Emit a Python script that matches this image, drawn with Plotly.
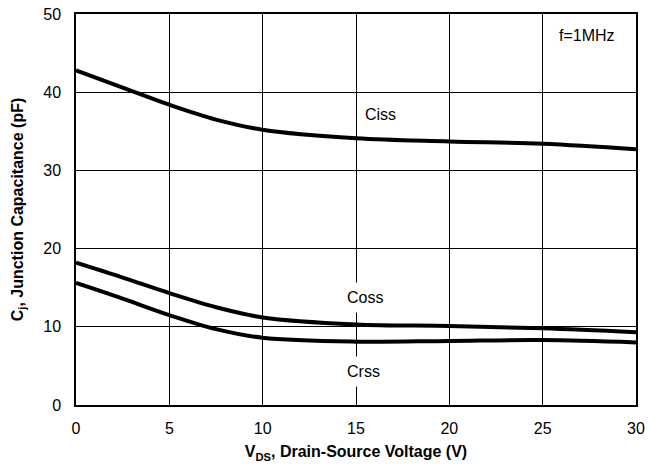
import plotly.graph_objects as go

# Drain-source voltage sample points (V)
vds = [0, 2.5, 5, 7.5, 10, 15, 20, 25, 30]

# Junction capacitances (pF) at f = 1 MHz
ciss = [42.8, 40.6, 38.4, 36.5, 35.2, 34.1, 33.7, 33.4, 32.7]
coss = [18.2, 16.3, 14.3, 12.5, 11.2, 10.3, 10.1, 9.8, 9.3]
crss = [15.6, 13.6, 11.5, 9.7, 8.6, 8.1, 8.2, 8.3, 8.0]

x_ticks = [0, 5, 10, 15, 20, 25, 30]
y_ticks = [0, 10, 20, 30, 40, 50]

curve_labels = [
    ("Ciss", 16.3, 37.1),
    ("Coss", 15.5, 13.8),
    ("Crss", 15.4, 4.3),
]

font_family = "Liberation Sans, Arial, sans-serif"

fig = go.Figure()
for name, ys in (("Ciss", ciss), ("Coss", coss), ("Crss", crss)):
    fig.add_trace(go.Scatter(
        x=vds, y=ys, name=name, mode="lines",
        line=dict(color="black", width=4, shape="spline", smoothing=1.0),
        showlegend=False,
    ))

for text, x, y in curve_labels:
    fig.add_annotation(
        x=x, y=y, text=text, showarrow=False,
        font=dict(family=font_family, size=16, color="black"),
        bgcolor="white", borderpad=6,
    )

fig.add_annotation(
    x=27.4, y=47.3, text="f=1MHz", showarrow=False,
    font=dict(family=font_family, size=16, color="black"),
)

axis_common = dict(
    showgrid=True, gridcolor="black", gridwidth=1.3,
    showline=True, linecolor="black", linewidth=1.5, mirror=True,
    zeroline=False, ticks="", automargin=False,
    tickfont=dict(family=font_family, size=16, color="black"),
)

fig.update_xaxes(
    range=[0, 30], tickvals=x_ticks, ticktext=[str(v) for v in x_ticks],
    ticklabelstandoff=8,
    title=dict(text="<b>V<sub>DS</sub>, Drain-Source Voltage (V)</b>",
               font=dict(family=font_family, size=16, color="black"),
               standoff=10),
    **axis_common,
)
fig.update_yaxes(
    range=[0, 50], tickvals=y_ticks, ticktext=[str(v) for v in y_ticks],
    ticklabelstandoff=10,
    title=dict(text="<b>C<sub>j</sub>, Junction Capacitance (pF)</b>",
               font=dict(family=font_family, size=16, color="black"),
               standoff=16),
    **axis_common,
)

fig.update_layout(
    width=648, height=472,
    margin=dict(l=76, r=12, t=14, b=67),
    paper_bgcolor="white", plot_bgcolor="white",
)

fig.write_html("out.html")
